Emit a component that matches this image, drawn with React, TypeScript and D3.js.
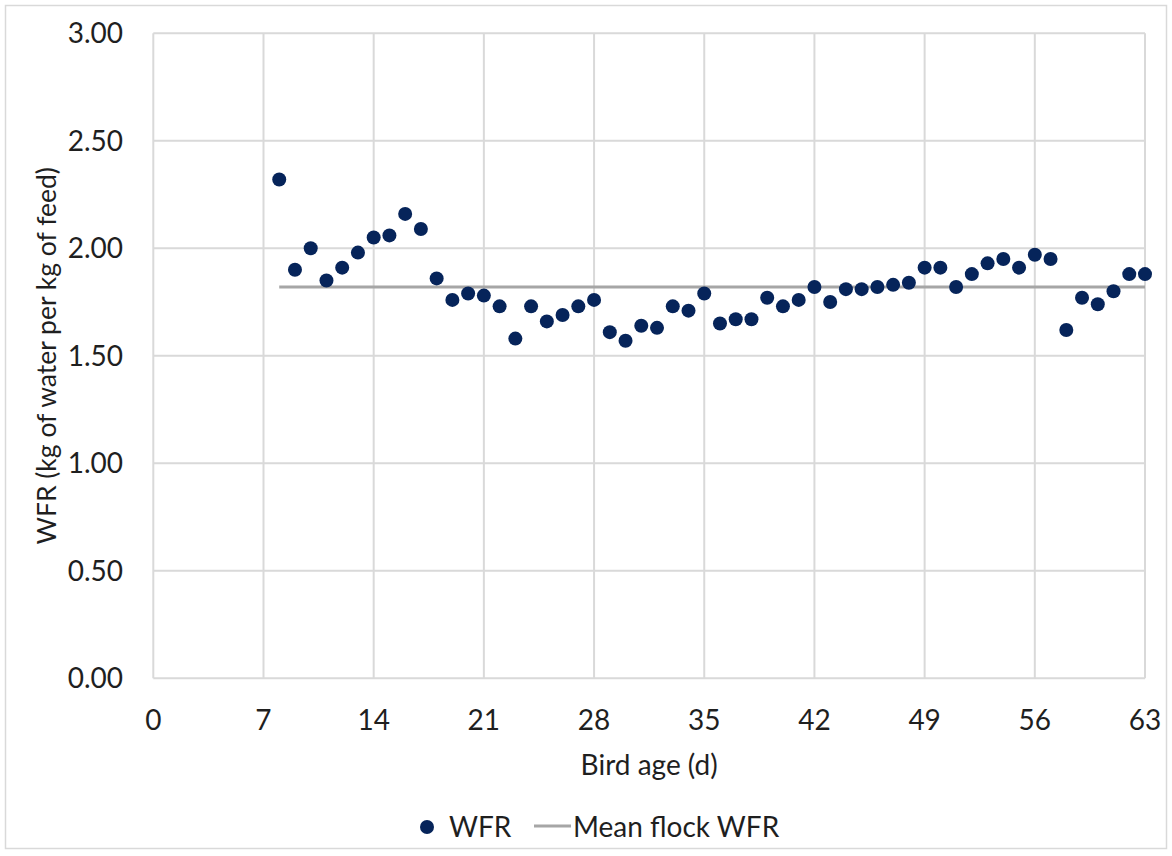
import React from "react";
import * as d3 from "d3";

const days = [8,9,10,11,12,13,14,15,16,17,18,19,20,21,22,23,24,25,26,27,28,29,30,31,32,33,34,35,36,37,38,39,40,41,42,43,44,45,46,47,48,49,50,51,52,53,54,55,56,57,58,59,60,61,62,63];
const wfr = [2.32,1.90,2.00,1.85,1.91,1.98,2.05,2.06,2.16,2.09,1.86,1.76,1.79,1.78,1.73,1.58,1.73,1.66,1.69,1.73,1.76,1.61,1.57,1.64,1.63,1.73,1.71,1.79,1.65,1.67,1.67,1.77,1.73,1.76,1.82,1.75,1.81,1.81,1.82,1.83,1.84,1.91,1.91,1.82,1.88,1.93,1.95,1.91,1.97,1.95,1.62,1.77,1.74,1.80,1.88,1.88];
const meanWFR = 1.82;
const meanRange = [8, 63];
const xTicks = [0,7,14,21,28,35,42,49,56,63];
const yTicks = [0,0.5,1,1.5,2,2.5,3];
const xTitle = "Bird age (d)";
const yTitle = "WFR (kg of water per kg of feed)";
const legendDot = "WFR";
const legendLine = "Mean flock WFR";

export default function App() {
  const W = 1172, H = 856;
  const x = d3.scaleLinear().domain([0, 63]).range([153.3, 1145]);
  const y = d3.scaleLinear().domain([0, 3]).range([678.3, 33.3]);
  const font = "Lato, 'Open Sans', sans-serif";
  const fs = 28;
  const grid = "#d9d9d9";
  const dotColor = "#06245a";
  const txt = "#1f1f1f";
  return (
    <svg width={W} height={H} style={{ position: "absolute", left: 0, top: 0, background: "#fff" }} fontFamily={font}>
      <rect x={5.5} y={5.5} width={1161} height={843} fill="#fff" stroke={grid} strokeWidth={1.5} />
      {yTicks.map((t) => (
        <line key={"gy" + t} x1={x(0)} x2={x(63)} y1={y(t)} y2={y(t)} stroke={grid} strokeWidth={2} />
      ))}
      {xTicks.map((t) => (
        <line key={"gx" + t} x1={x(t)} x2={x(t)} y1={y(0)} y2={y(3)} stroke={grid} strokeWidth={2} />
      ))}
      <line x1={x(meanRange[0])} x2={x(meanRange[1])} y1={y(meanWFR)} y2={y(meanWFR)} stroke="#a6a6a6" strokeWidth={3} />
      {days.map((d, i) => (
        <circle key={"p" + d} cx={x(d)} cy={y(wfr[i])} r={7} fill={dotColor} />
      ))}
      {yTicks.map((t) => (
        <text key={"ty" + t} x={123} y={y(t)} dy="0.35em" textAnchor="end" fontSize={fs} fill={txt}>
          {d3.format(".2f")(t)}
        </text>
      ))}
      {xTicks.map((t) => (
        <text key={"tx" + t} x={x(t)} y={730} textAnchor="middle" fontSize={fs} fill={txt}>
          {t}
        </text>
      ))}
      <text x={x(31.5)} y={775} textAnchor="middle" fontSize={fs} fill={txt}>{xTitle}</text>
      <text transform={`translate(56,${(y(0) + y(3)) / 2}) rotate(-90)`} textAnchor="middle" fontSize={26.5} fill={txt}>{yTitle}</text>
      <circle cx={427} cy={827} r={7} fill={dotColor} />
      <text x={449} y={837} fontSize={fs} fill={txt}>{legendDot}</text>
      <line x1={534} x2={571} y1={826} y2={826} stroke="#a6a6a6" strokeWidth={3} />
      <text x={573} y={837} fontSize={fs} fill={txt}>{legendLine}</text>
    </svg>
  );
}
